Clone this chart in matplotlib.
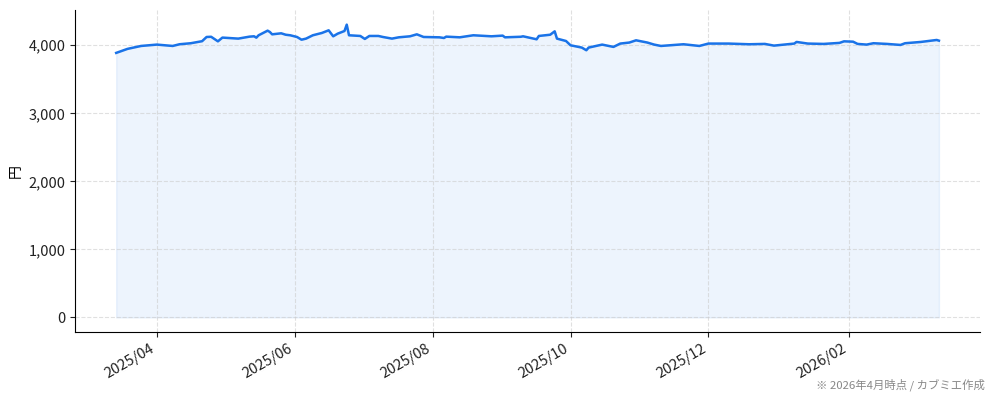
import matplotlib
matplotlib.use("Agg")
import matplotlib.pyplot as plt
import matplotlib.dates as mdates
from matplotlib.ticker import FuncFormatter
import pandas as pd

plt.rcParams['font.family'] = ['Noto Sans CJK JP', 'DejaVu Sans']

# price readings (yen)
dates = [
    "2025-03-14", "2025-03-19", "2025-03-25", "2025-04-01", "2025-04-08",
    "2025-04-11", "2025-04-16", "2025-04-21", "2025-04-23", "2025-04-25",
    "2025-04-28", "2025-04-30", "2025-05-07", "2025-05-12", "2025-05-14",
    "2025-05-15", "2025-05-16", "2025-05-20", "2025-05-21", "2025-05-22",
    "2025-05-26", "2025-05-28", "2025-05-30", "2025-06-02", "2025-06-04",
    "2025-06-06", "2025-06-09", "2025-06-13", "2025-06-16", "2025-06-18",
    "2025-06-20", "2025-06-23", "2025-06-24", "2025-06-25", "2025-06-30",
    "2025-07-02", "2025-07-04", "2025-07-08", "2025-07-10", "2025-07-14",
    "2025-07-17", "2025-07-22", "2025-07-25", "2025-07-28", "2025-08-04",
    "2025-08-06", "2025-08-07", "2025-08-13", "2025-08-19", "2025-08-27",
    "2025-09-01", "2025-09-02", "2025-09-09", "2025-09-10", "2025-09-16",
    "2025-09-17", "2025-09-22", "2025-09-24", "2025-09-25", "2025-09-29",
    "2025-10-01", "2025-10-06", "2025-10-08", "2025-10-09", "2025-10-15",
    "2025-10-20", "2025-10-23", "2025-10-27", "2025-10-30", "2025-11-04",
    "2025-11-07", "2025-11-10", "2025-11-20", "2025-11-27", "2025-12-01",
    "2025-12-10", "2025-12-19", "2025-12-26", "2025-12-30", "2026-01-08",
    "2026-01-09", "2026-01-14", "2026-01-21", "2026-01-28", "2026-01-30",
    "2026-02-03", "2026-02-05", "2026-02-09", "2026-02-12", "2026-02-18",
    "2026-02-24", "2026-02-26", "2026-03-05", "2026-03-12", "2026-03-13",
]
prices = [
    3888, 3947, 3990, 4010, 3990,
    4015, 4030, 4060, 4122, 4125,
    4058, 4113, 4098, 4127, 4132,
    4112, 4147, 4215, 4195, 4161,
    4176, 4155, 4147, 4122, 4082,
    4098, 4147, 4181, 4220, 4132,
    4171, 4210, 4303, 4147, 4137,
    4093, 4137, 4137, 4122, 4098,
    4117, 4132, 4161, 4122, 4117,
    4107, 4127, 4117, 4147, 4132,
    4142, 4117, 4125, 4132, 4088,
    4137, 4155, 4205, 4098, 4063,
    4000, 3966, 3927, 3966, 4010,
    3976, 4025, 4040, 4073, 4040,
    4010, 3990, 4015, 3990, 4025,
    4025, 4015, 4020, 3995, 4025,
    4049, 4025, 4020, 4035, 4058,
    4053, 4020, 4010, 4030, 4020,
    4005, 4030, 4049, 4078, 4068,
]

x = pd.to_datetime(dates)
color = "#1a73e8"

fig = plt.figure(figsize=(9.94, 4.01), dpi=100)
ax = fig.add_axes([0.0755, 0.172, 0.9105, 0.803])

ax.plot(x, prices, color=color, linewidth=1.8)
ax.fill_between(x, prices, 0, color=color, alpha=0.08)

ax.grid(True, linestyle="--", color="#cccccc", alpha=0.6, linewidth=0.8)
ax.spines["top"].set_visible(False)
ax.spines["right"].set_visible(False)

ax.xaxis.set_major_locator(mdates.MonthLocator(bymonth=[2, 4, 6, 8, 10, 12]))
ax.xaxis.set_major_formatter(mdates.DateFormatter("%Y/%m"))
ax.yaxis.set_major_formatter(FuncFormatter(lambda v, p: f"{int(v):,}"))
ax.tick_params(labelsize=10.5, colors="#222222")
plt.setp(ax.get_xticklabels(), rotation=30, ha="right")

ax.set_ylabel("円", fontsize=10)
fig.text(0.991, 0.025, "※ 2026年4月時点 / カブミエ作成", ha="right", va="bottom",
         fontsize=8.2, color="#888888")

fig.savefig("out.png", dpi=100)
